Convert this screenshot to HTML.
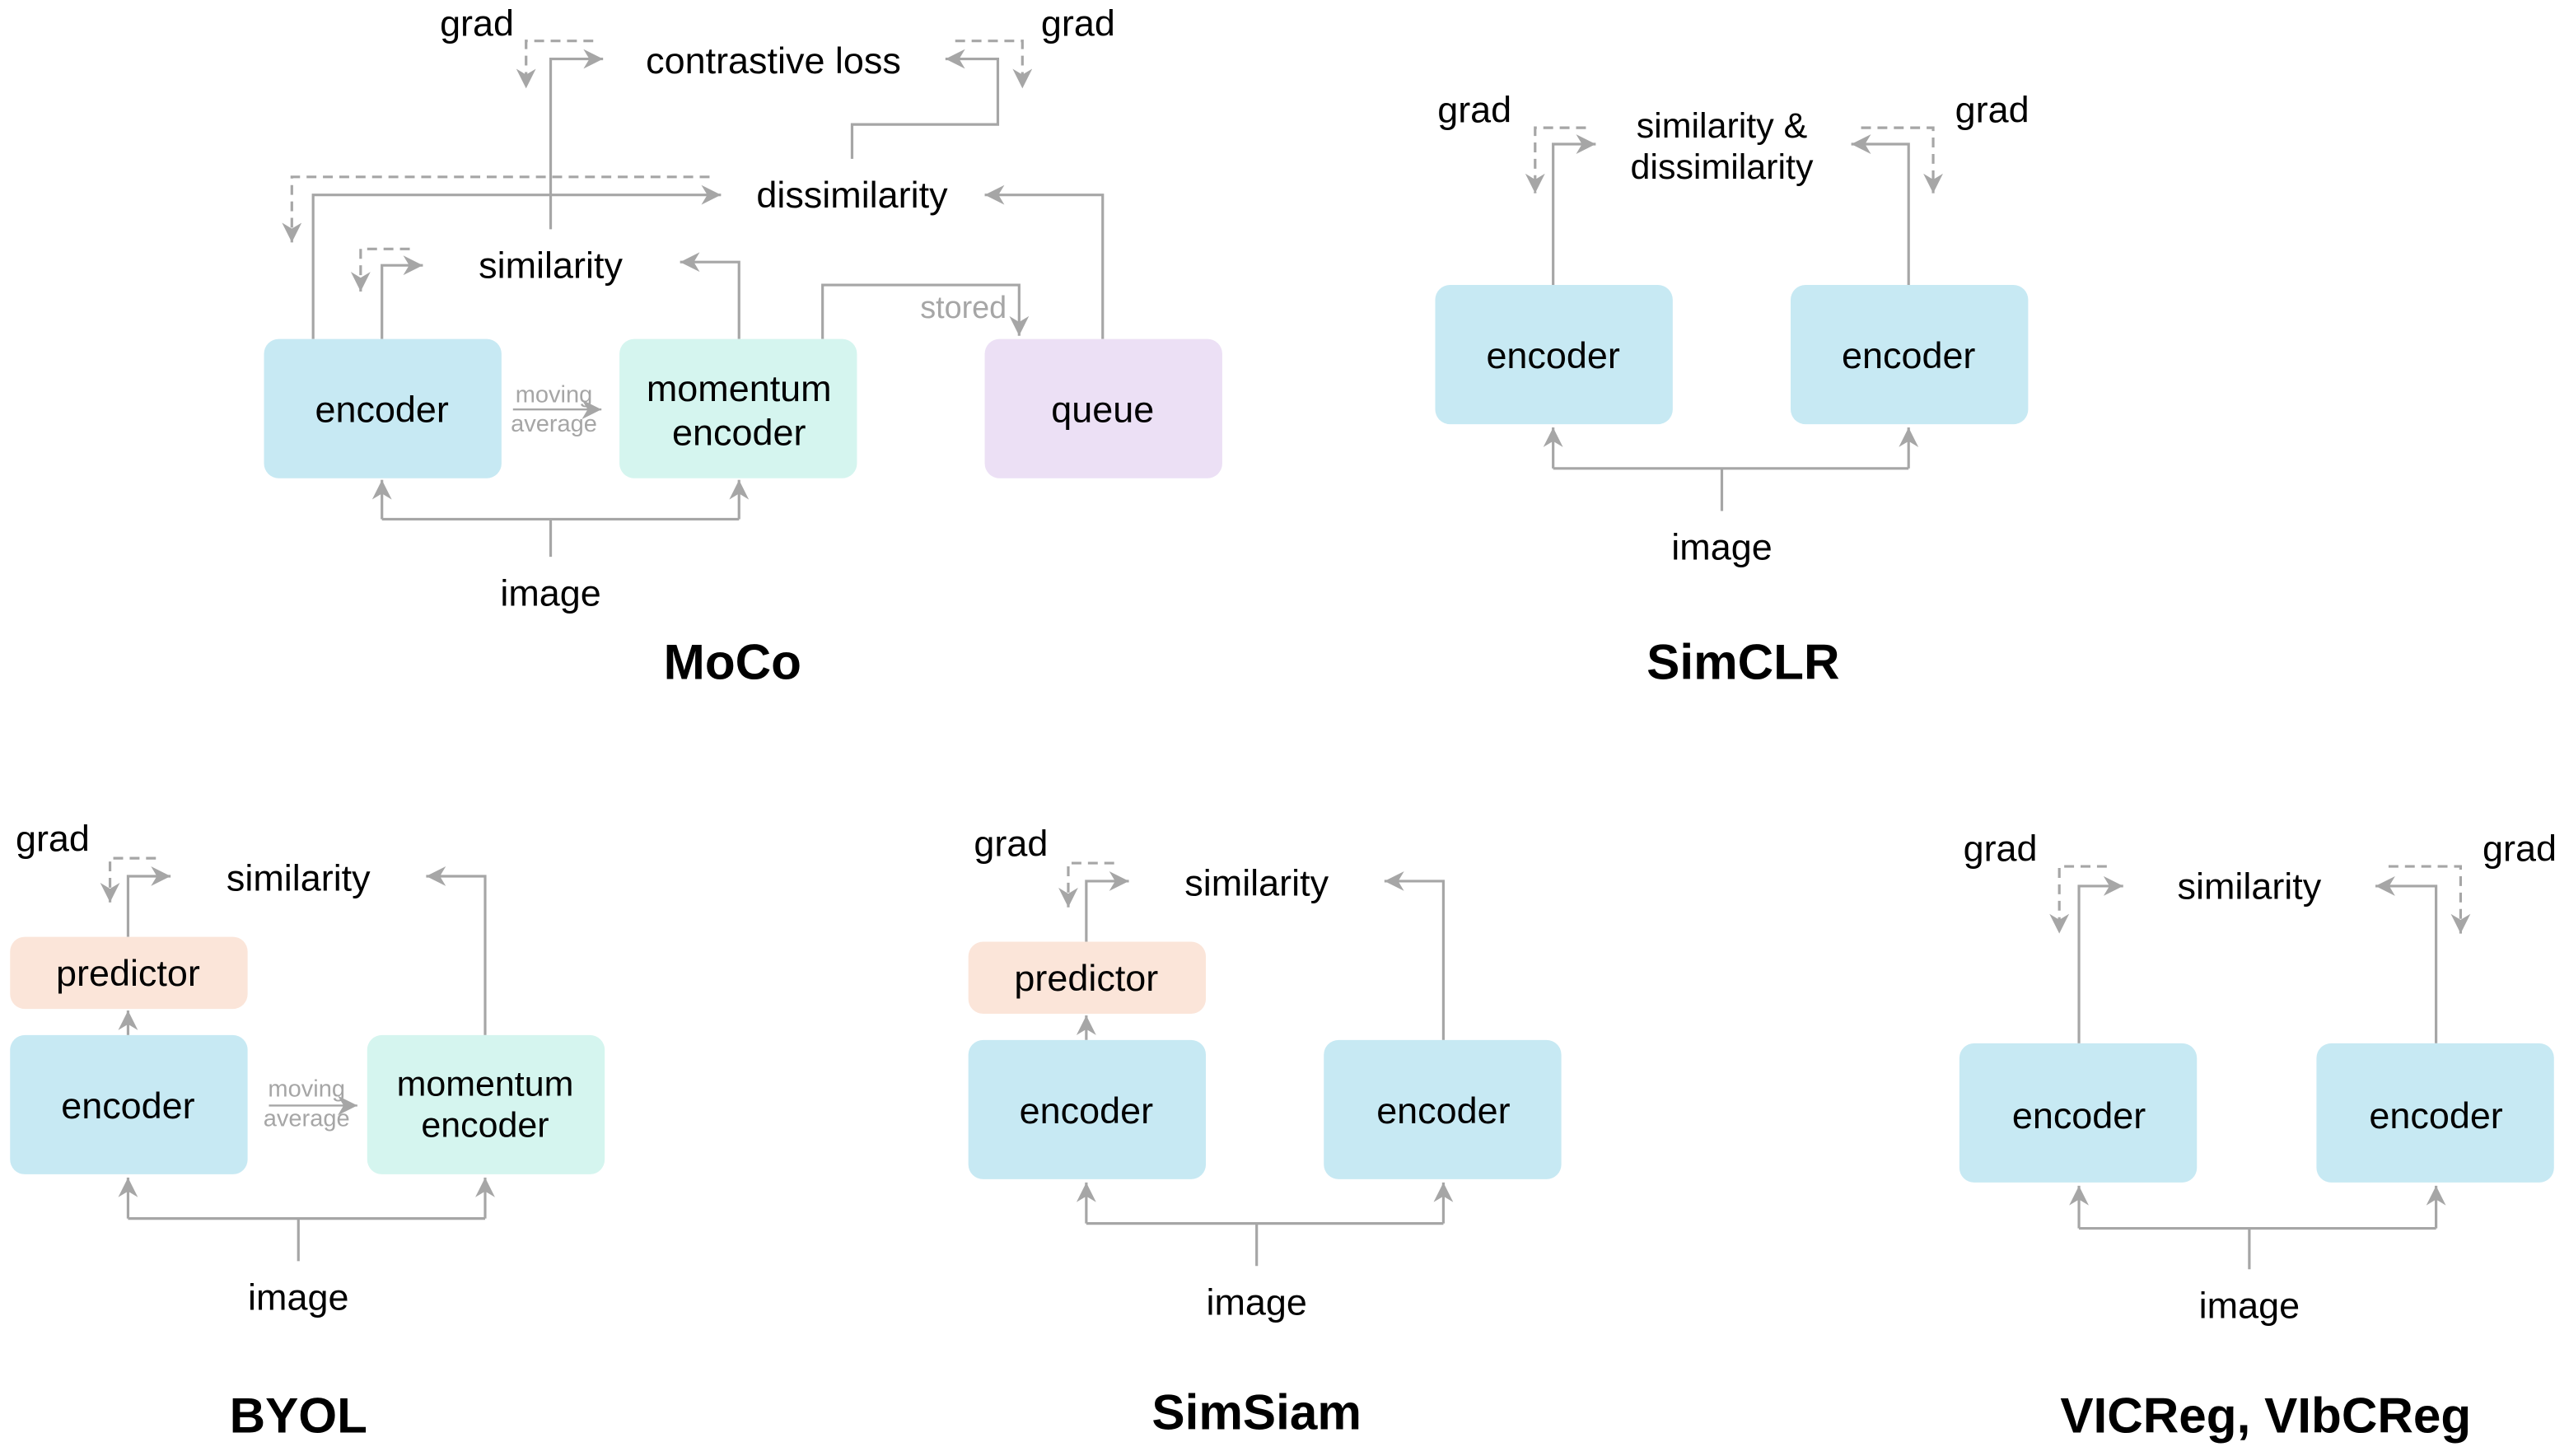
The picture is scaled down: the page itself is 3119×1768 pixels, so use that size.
<!DOCTYPE html>
<html><head><meta charset="utf-8"><style>
html,body{margin:0;padding:0;background:#fff;}
svg{display:block;}
text{font-family:"Liberation Sans",Arial,sans-serif;}
</style></head><body>
<svg width="3119" height="1768" viewBox="0 0 1568 889" xmlns="http://www.w3.org/2000/svg">
<defs>
<marker id="a" markerWidth="12" markerHeight="12" refX="10" refY="5" orient="auto" markerUnits="userSpaceOnUse" viewBox="0 0 10 10">
<path d="M0,0 L10,5 L0,10 L3,5 z" fill="#a6a6a6"/>
</marker>
</defs>
<g fill="none" stroke="#a6a6a6" stroke-width="1.6">
<path d="M336,340 V317 M233,317 H451" />
<path d="M233,317 V293" marker-end="url(#a)"/>
<path d="M451,317 V293" marker-end="url(#a)"/>
<path d="M313,250 H367" stroke-width="1.2" marker-end="url(#a)"/>
<path d="M233,207 V162 H258" marker-end="url(#a)"/>
<path d="M451,207 V160 H415" marker-end="url(#a)"/>
<path d="M336,140 V36 H368" marker-end="url(#a)"/>
<path d="M520,97 V76 H609 V36 H577" marker-end="url(#a)"/>
<path d="M191,207 V119 H440" marker-end="url(#a)"/>
<path d="M673,207 V119 H601" marker-end="url(#a)"/>
<path d="M502,207 V174 H622 V205" marker-end="url(#a)"/>
<g stroke-dasharray="6,4">
<path d="M250,152 H220 V178" marker-end="url(#a)"/>
<path d="M362,25 H321 V54" marker-end="url(#a)"/>
<path d="M583,25 H624 V54" marker-end="url(#a)"/>
<path d="M433,108 H178 V148" marker-end="url(#a)"/>
</g>
<path d="M1051,312 V286 M948,286 H1165"/>
<path d="M948,286 V261" marker-end="url(#a)"/>
<path d="M1165,286 V261" marker-end="url(#a)"/>
<path d="M948,174 V88 H974" marker-end="url(#a)"/>
<path d="M1165,174 V88 H1130" marker-end="url(#a)"/>
<g stroke-dasharray="6,4">
<path d="M968,78 H937 V118" marker-end="url(#a)"/>
<path d="M1136,78 H1180 V118" marker-end="url(#a)"/>
</g>
<path d="M182,770 V744 M78,744 H296"/>
<path d="M78,744 V719" marker-end="url(#a)"/>
<path d="M296,744 V719" marker-end="url(#a)"/>
<path d="M78,632 V617" marker-end="url(#a)"/>
<path d="M78,572 V535 H104" marker-end="url(#a)"/>
<path d="M296,632 V535 H260" marker-end="url(#a)"/>
<path d="M164,675 H218" stroke-width="1.2" marker-end="url(#a)"/>
<path d="M95,524 H67 V551" stroke-dasharray="6,4" marker-end="url(#a)"/>
<path d="M767,773 V747 M663,747 H881"/>
<path d="M663,747 V722" marker-end="url(#a)"/>
<path d="M881,747 V722" marker-end="url(#a)"/>
<path d="M663,635 V620" marker-end="url(#a)"/>
<path d="M663,575 V538 H689" marker-end="url(#a)"/>
<path d="M881,635 V538 H845" marker-end="url(#a)"/>
<path d="M680,527 H652 V554" stroke-dasharray="6,4" marker-end="url(#a)"/>
<path d="M1373,775 V750 M1269,750 H1487"/>
<path d="M1269,750 V724" marker-end="url(#a)"/>
<path d="M1487,750 V724" marker-end="url(#a)"/>
<path d="M1269,637 V541 H1296" marker-end="url(#a)"/>
<path d="M1487,637 V541 H1450" marker-end="url(#a)"/>
<g stroke-dasharray="6,4">
<path d="M1286,529 H1257 V570" marker-end="url(#a)"/>
<path d="M1458,529 H1502 V570" marker-end="url(#a)"/>
</g>
</g>
<g>
<rect x="161" y="207" width="145" height="85" rx="9" fill="#c7e9f3"/>
<rect x="378" y="207" width="145" height="85" rx="9" fill="#d5f5ef"/>
<rect x="601" y="207" width="145" height="85" rx="9" fill="#ece0f5"/>
<rect x="876" y="174" width="145" height="85" rx="9" fill="#c7e9f3"/>
<rect x="1093" y="174" width="145" height="85" rx="9" fill="#c7e9f3"/>
<rect x="6" y="572" width="145" height="44" rx="9" fill="#fbe5d9"/>
<rect x="6" y="632" width="145" height="85" rx="9" fill="#c7e9f3"/>
<rect x="224" y="632" width="145" height="85" rx="9" fill="#d5f5ef"/>
<rect x="591" y="575" width="145" height="44" rx="9" fill="#fbe5d9"/>
<rect x="591" y="635" width="145" height="85" rx="9" fill="#c7e9f3"/>
<rect x="808" y="635" width="145" height="85" rx="9" fill="#c7e9f3"/>
<rect x="1196" y="637" width="145" height="85" rx="9" fill="#c7e9f3"/>
<rect x="1414" y="637" width="145" height="85" rx="9" fill="#c7e9f3"/>
</g>
<g font-size="22.6" fill="#000" text-anchor="middle" dominant-baseline="central">
<text x="233" y="250">encoder</text>
<text x="451" y="237">momentum</text>
<text x="451" y="264">encoder</text>
<text x="673" y="250">queue</text>
<text x="336" y="362">image</text>
<text x="336" y="162">similarity</text>
<text x="520" y="119">dissimilarity</text>
<text x="472" y="37">contrastive loss</text>
<text x="291" y="14">grad</text>
<text x="658" y="14">grad</text>
<text x="338" y="241" font-size="14.6" fill="#a6a6a6">moving</text>
<text x="338" y="259" font-size="14.6" fill="#a6a6a6">average</text>
<text x="588" y="188" font-size="19" fill="#a6a6a6">stored</text>
<text x="447" y="404" font-size="30.3" font-weight="bold">MoCo</text>
<text x="948" y="217">encoder</text>
<text x="1165" y="217">encoder</text>
<text x="1051" y="334">image</text>
<text x="1051" y="77" font-size="21.6">similarity &amp;</text>
<text x="1051" y="102" font-size="21.6">dissimilarity</text>
<text x="900" y="67">grad</text>
<text x="1216" y="67">grad</text>
<text x="1064" y="404" font-size="30.3" font-weight="bold">SimCLR</text>
<text x="78" y="594">predictor</text>
<text x="78" y="675">encoder</text>
<text x="296" y="662" font-size="21.6">momentum</text>
<text x="296" y="687" font-size="21.6">encoder</text>
<text x="182" y="792">image</text>
<text x="182" y="536">similarity</text>
<text x="32" y="512">grad</text>
<text x="187" y="665" font-size="14.6" fill="#a6a6a6">moving</text>
<text x="187" y="683" font-size="14.6" fill="#a6a6a6">average</text>
<text x="182" y="864" font-size="30.3" font-weight="bold">BYOL</text>
<text x="663" y="597">predictor</text>
<text x="663" y="678">encoder</text>
<text x="881" y="678">encoder</text>
<text x="767" y="795">image</text>
<text x="767" y="539">similarity</text>
<text x="617" y="515">grad</text>
<text x="767" y="862" font-size="30.3" font-weight="bold">SimSiam</text>
<text x="1269" y="681">encoder</text>
<text x="1487" y="681">encoder</text>
<text x="1373" y="797">image</text>
<text x="1373" y="541">similarity</text>
<text x="1221" y="518">grad</text>
<text x="1538" y="518">grad</text>
<text x="1383" y="864" font-size="30.3" font-weight="bold">VICReg, VIbCReg</text>
</g>
</svg>
</body></html>
